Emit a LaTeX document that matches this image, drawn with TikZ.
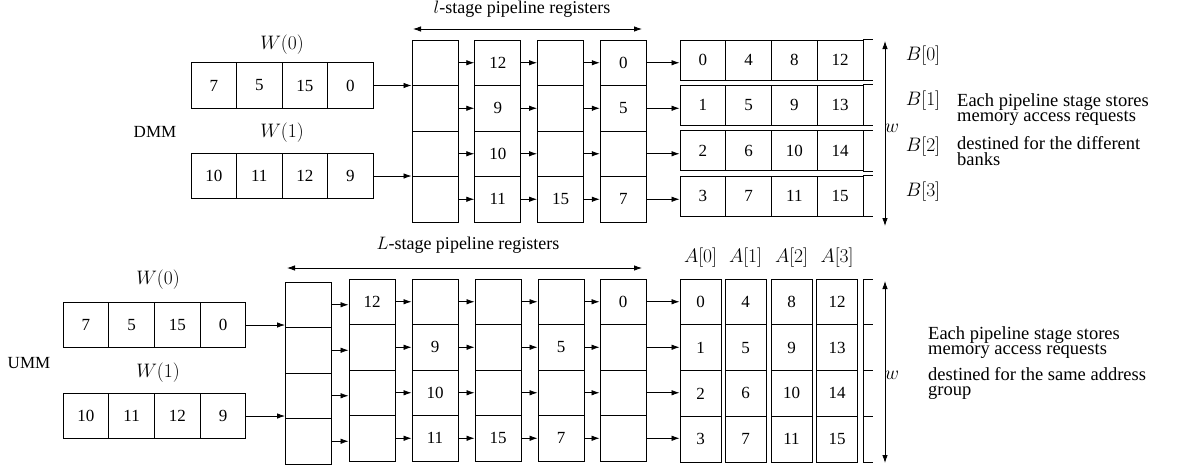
\RequirePackage{fix-cm}
\documentclass[tikz,border=0pt]{standalone}
\usepackage[no-math]{fontspec}
\setmainfont{Liberation Serif}
\usetikzlibrary{arrows.meta}
\tikzset{
  cell/.style={draw, line width=0.9pt, inner sep=0pt, minimum width=45.5pt, minimum height=45.5pt, font=\fontsize{17}{17}\selectfont},
  bankcell/.style={cell, minimum width=45.75pt, minimum height=40pt},
  acell/.style={cell, minimum width=41pt, minimum height=45.75pt},
  arr/.style={-{Latex[length=8pt,width=5.5pt]}, line width=0.8pt},
  darr/.style={{Latex[length=8pt,width=5.5pt]}-{Latex[length=8pt,width=5.5pt]}, line width=0.8pt},
  lbl/.style={font=\fontsize{17}{17}\selectfont, inner sep=0pt},
  hlbl/.style={font=\fontsize{18}{18}\selectfont, inner sep=0pt},
  mlbl/.style={font=\fontsize{19.5}{19.5}\selectfont, inner sep=0pt},
  desc/.style={font=\fontsize{18.5}{15.5}\selectfont, inner sep=0pt, anchor=base west, align=left},
}
\newcommand\stagecol[7]{%
  \node[cell, minimum width=46pt] (#1r1) at (#2,{#3+22.75}) {#4};
  \node[cell, minimum width=46pt] (#1r2) at (#2,{#3+68.25}) {#5};
  \node[cell, minimum width=46pt] (#1r3) at (#2,{#3+113.75}) {#6};
  \node[cell, minimum width=46pt] (#1r4) at (#2,{#3+159.25}) {#7};
}
\begin{document}
\begin{tikzpicture}[x=1pt,y=-1pt]
\useasboundingbox (0,0) rectangle (1180,469);

% ================= DMM (top) =================
\node[lbl] (dmm) at (155,132) {DMM};
\node[mlbl] (tW0) at (282,45) {$W(0)$};
\node[mlbl] (tW1) at (282,133) {$W(1)$};
\foreach \v [count=\i] in {7,5,15,0}
  \node[cell] (tw0c\i) at ({191+45.5*(\i-0.5)},85.5) {\v};
\foreach \v [count=\i] in {10,11,12,9}
  \node[cell] (tw1c\i) at ({191+45.5*(\i-0.5)},176) {\v};

\stagecol{ta}{435}{40}{}{}{}{}
\stagecol{tb}{497.75}{40}{12}{9}{10}{11}
\stagecol{tc}{560.5}{40}{}{}{}{15}
\stagecol{td}{623.25}{40}{0}{5}{}{7}

\node[hlbl] (tpl) at (522,9) {$l$-stage pipeline registers};
\coordinate (tpa) at (413,29);
\coordinate (tpb) at (642,29);
\draw[darr] (tpa) -- (tpb);

\draw[arr] (tw0c4.east) -- (tw0c4.east -| tar1.west);
\draw[arr] (tw1c4.east) -- (tw1c4.east -| tar3.west);
\foreach \p/\q in {ta/tb,tb/tc,tc/td}
  \foreach \rw in {1,...,4}
    \draw[arr] (\p r\rw.east) -- (\q r\rw.west);

% banks
\foreach \rw/\y in {1/60,2/105.3,3/150.6,4/196}{
  \foreach \i in {1,...,4}{
    \pgfmathtruncatemacro\val{\rw-1+4*(\i-1)}
    \node[bankcell] (bk\rw c\i) at ({680+45.75*(\i-0.5)},\y) {\val};
  }
  \draw[line width=0.9pt] (bk\rw c4.north east) -- ++(10,0);
  \draw[line width=0.9pt] (bk\rw c4.south east) -- ++(10,0);
  \draw[arr] (tdr\rw.east) -- (tdr\rw.east -| bk\rw c1.west);
}
\coordinate (twa) at (885,41);
\coordinate (twb) at (885,226);
\draw[darr] (twa) -- (twb);
\node[mlbl] (twl) at (892,128) {$w$};
\node[mlbl] (B0) at (923,56) {$B[0]$};
\node[mlbl] (B1) at (923,101) {$B[1]$};
\node[mlbl] (B2) at (923,147) {$B[2]$};
\node[mlbl] (B3) at (923,192) {$B[3]$};
\node[desc] (td1) at (957,121.5) {Each pipeline stage stores\\memory access requests};
\node[desc] (td3) at (957,165) {destined for the different\\banks};

% ================= UMM (bottom) =================
\node[lbl] (umm) at (29,363) {UMM};
\node[mlbl] (bW0) at (158,280) {$W(0)$};
\node[mlbl] (bW1) at (158,373) {$W(1)$};
\foreach \v [count=\i] in {7,5,15,0}
  \node[cell] (bw0c\i) at ({63+45.75*(\i-0.5)},325) {\v};
\foreach \v [count=\i] in {10,11,12,9}
  \node[cell] (bw1c\i) at ({63+45.75*(\i-0.5)},416) {\v};

\stagecol{ba}{308.5}{282}{}{}{}{}
\stagecol{bb}{372}{279}{12}{}{}{}
\stagecol{bc}{435}{279}{}{9}{10}{11}
\stagecol{bd}{498}{279}{}{}{}{15}
\stagecol{be}{561}{279}{}{5}{}{7}
\stagecol{bf}{623}{279}{0}{}{}{}

\node[hlbl] (bpl) at (468,245) {$L$-stage pipeline registers};
\coordinate (bpa) at (287,268);
\coordinate (bpb) at (642,268);
\draw[darr] (bpa) -- (bpb);

\draw[arr] (bw0c4.east) -- (bw0c4.east -| bar1.west);
\draw[arr] (bw1c4.east) -- (bw1c4.east -| bar3.west);
\foreach \p/\q in {ba/bb,bb/bc,bc/bd,bd/be,be/bf}
  \foreach \rw in {1,...,4}
    \draw[arr] (\p r\rw.east) -- (\p r\rw.east -| \q r\rw.west);

% address groups
\foreach \c/\x in {1/700.5,2/745.5,3/791.5,4/837}{
  \foreach \rw in {1,...,4}{
    \pgfmathtruncatemacro\val{4*(\c-1)+\rw-1}
    \node[acell] (ag\c r\rw) at (\x,{279+45.75*(\rw-0.5)}) {\val};
  }
  \pgfmathtruncatemacro\idx{\c-1}
  \node[mlbl] (Al\c) at (\x,258) {$A[\idx]$};
}
\foreach \rw in {1,...,4}
  \draw[arr] (bfr\rw.east) -- (bfr\rw.east -| ag1r\rw.west);
\draw[line width=0.9pt] (863,279) -- (863,462);
\foreach \y in {279,324.75,370.5,416.25,462}
  \draw[line width=0.9pt] (863,\y) -- (873,\y);
\coordinate (bwa) at (885,281);
\coordinate (bwb) at (885,463);
\draw[darr] (bwa) -- (bwb);
\node[mlbl] (bwl) at (892,375) {$w$};
\node[desc] (bd1) at (928,354.5) {Each pipeline stage stores\\memory access requests};
\node[desc] (bd3) at (928,395.5) {destined for the same address\\group};
\end{tikzpicture}
\end{document}
